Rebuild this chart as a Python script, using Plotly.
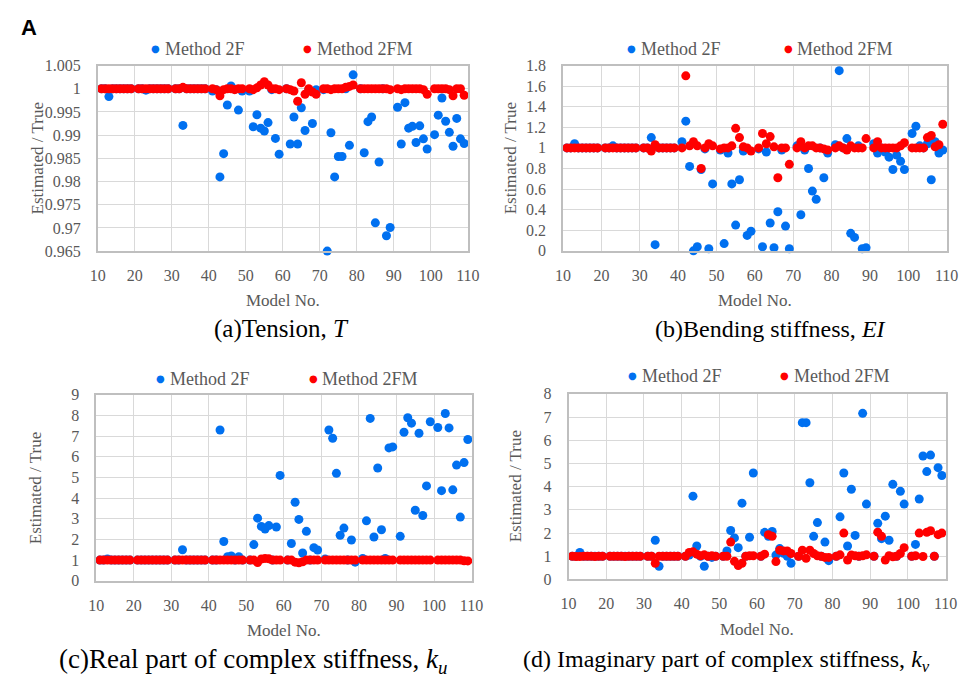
import plotly.graph_objects as go

# ---------------- data ----------------
models = [11, 12, 13, 14, 15, 16, 17, 18, 19,
          21, 22, 23, 24, 25, 26, 27, 28, 29,
          31, 32, 33, 34, 35, 36, 37, 38, 39,
          41, 42, 43, 44, 45, 46, 47, 48, 49,
          51, 52, 53, 54, 55, 56, 57, 58, 59,
          61, 62, 63, 64, 65, 66, 67, 68, 69,
          71, 72, 73, 74, 75, 76, 77, 78, 79,
          81, 82, 83, 84, 85, 86, 87, 88, 89,
          91, 92, 93, 94, 95, 96, 97, 98, 99,
          101, 102, 103, 104, 105, 106, 107, 108, 109]

# (a) Tension T
t_2f = [1.0, 1.0, 0.9983, 1.0, 1.0, 1.0, 1.0, 1.0, 1.0,
        1.0, 1.0, 0.9997, 1.0, 1.0, 1.0, 1.0, 1.0, 1.0,
        1.0, 1.0, 0.9921, 1.0, 1.0, 1.0, 1.0, 1.0, 1.0,
        0.9995, 0.9998, 0.981, 0.986, 0.9965, 1.0006, 0.9999, 0.9954, 0.9995,
        0.9995, 0.9918, 0.9944, 0.9915, 0.9909, 0.9927, 0.9998, 0.9893, 0.9859,
        1.0, 0.9881, 0.9939, 0.9881, 0.9959, 0.991, 0.9998, 0.9925, 0.9998,
        0.9998, 0.965, 0.9905, 0.981, 0.9854, 0.9854, 1.0, 0.9878, 1.003,
        1.0, 0.9862, 0.9929, 0.9939, 0.9711, 0.9842, 1.0, 0.9683, 0.9701,
        0.996, 0.9881, 0.997, 0.9915, 0.9919, 0.9884, 0.992, 0.9892, 0.987,
        0.9901, 0.9943, 0.998, 0.993, 0.9906, 0.9876, 0.9936, 0.9892, 0.9882]
t_2fm = [1.0, 1.0, 1.0, 1.0, 1.0, 1.0, 1.0, 1.0, 1.0,
         1.0, 1.0, 1.0, 1.0, 1.0, 1.0, 1.0, 1.0, 1.0,
         1.0, 1.0, 1.0003, 1.0, 1.0, 1.0, 1.0, 1.0, 1.0,
         1.0, 0.9998, 0.9985, 0.9998, 1.0, 1.0, 0.9998, 1.0, 1.0,
         1.0, 0.9998, 1.0002, 1.0008, 1.0015, 1.0008, 1.0, 1.0, 0.9998,
         1.0, 0.9998, 0.9995, 0.9973, 1.0013, 0.9988, 1.0, 0.9993, 0.9988,
         1.0, 1.0, 0.9998, 1.0, 1.0, 1.0, 1.0003, 1.0005, 1.0008,
         1.0, 1.0, 1.0, 1.0, 1.0, 1.0, 1.0, 1.0, 0.9998,
         1.0, 0.9998, 1.0, 1.0, 1.0, 1.0, 1.0, 0.9998, 0.9988,
         1.0, 1.0, 1.0, 1.0, 0.9998, 0.9985, 1.0, 1.0, 0.9986]

# (b) Bending stiffness EI
ei_2f = [1.0, 1.0, 1.04, 1.0, 1.0, 1.0, 1.0, 1.0, 1.0,
         1.0, 1.0, 1.02, 1.0, 1.0, 1.0, 1.0, 1.0, 1.0,
         1.0, 1.0, 1.10, 0.06, 1.0, 1.0, 1.0, 1.0, 1.0,
         1.06, 1.26, 0.82, 0.0, 0.04, 0.79, 0.99, 0.02, 0.65,
         0.98, 0.07, 0.95, 0.65, 0.25, 0.69, 0.97, 0.15, 0.19,
         0.99, 0.04, 0.96, 0.27, 0.03, 0.38, 0.98, 0.24, 0.02,
         1.02, 0.35, 0.98, 0.80, 0.58, 0.50, 1.0, 0.71, 0.95,
         1.03, 1.75, 1.0, 1.09, 0.17, 0.13, 1.02, 0.02, 0.03,
         1.04, 0.95, 1.0, 0.96, 0.91, 0.79, 0.93, 0.87, 0.79,
         1.14, 1.21, 1.02, 1.0, 1.04, 0.69, 1.06, 0.95, 0.98]
ei_2fm = [1.0, 1.0, 1.0, 1.0, 1.0, 1.0, 1.0, 1.0, 1.0,
          1.0, 1.0, 1.0, 1.0, 1.0, 1.0, 1.0, 1.0, 1.0,
          1.0, 1.0, 0.97, 1.03, 1.0, 1.0, 1.0, 1.0, 1.0,
          1.0, 1.70, 1.02, 1.06, 1.02, 0.80, 1.0, 1.04, 1.02,
          0.99, 1.0, 1.0, 1.02, 1.19, 1.10, 1.01, 1.0, 0.97,
          1.0, 1.14, 1.04, 1.11, 1.01, 0.71, 1.0, 1.0, 0.84,
          1.0, 1.06, 1.0, 1.02, 1.02, 1.0, 1.0, 0.99, 0.98,
          1.0, 1.02, 1.0, 0.98, 1.02, 1.0, 1.0, 1.0, 1.09,
          1.0, 1.06, 1.0, 1.0, 1.0, 1.0, 1.0, 1.02, 1.05,
          1.0, 1.0, 1.0, 1.0, 1.10, 1.12, 1.01, 1.03, 1.23]

# (c) Real part of complex stiffness ku
ku_2f = [1.0, 1.0, 1.05, 1.0, 1.0, 1.0, 1.0, 1.0, 1.0,
         1.0, 1.0, 1.0, 1.0, 1.0, 1.0, 1.0, 1.0, 1.0,
         1.0, 1.0, 1.5, 1.0, 1.0, 1.0, 1.0, 1.0, 1.0,
         1.0, 1.0, 7.3, 1.9, 1.16, 1.2, 1.0, 1.16, 1.0,
         1.0, 1.75, 3.03, 2.63, 2.5, 2.67, 1.0, 2.6, 5.1,
         1.0, 1.8, 3.8, 2.97, 1.34, 2.39, 1.0, 1.6, 1.49,
         1.05, 7.3, 6.9, 5.2, 2.2, 2.55, 1.0, 1.97, 0.9,
         1.08, 2.9, 7.86, 2.12, 5.46, 2.47, 1.08, 6.43, 6.48,
         2.15, 7.19, 7.89, 7.63, 3.41, 7.14, 3.16, 4.59, 7.7,
         7.42, 4.36, 8.1, 7.4, 4.4, 5.6, 3.08, 5.72, 6.84]
ku_2fm = [1.0, 1.0, 1.0, 1.0, 1.0, 1.0, 1.0, 1.0, 1.0,
          1.0, 1.0, 1.0, 1.0, 1.0, 1.0, 1.0, 1.0, 1.0,
          1.0, 1.0, 1.0, 1.0, 1.0, 1.0, 1.0, 1.0, 1.0,
          1.0, 1.0, 1.0, 1.0, 1.0, 1.0, 1.0, 1.0, 1.0,
          1.0, 1.0, 0.88, 1.05, 1.08, 1.06, 1.0, 1.0, 1.0,
          1.0, 1.0, 0.9, 0.87, 0.92, 1.0, 1.0, 1.0, 1.0,
          1.0, 1.0, 1.0, 1.0, 1.0, 1.0, 1.0, 1.0, 1.0,
          1.0, 1.0, 1.0, 1.0, 1.0, 1.0, 1.0, 1.0, 1.0,
          1.0, 1.0, 1.0, 1.0, 1.0, 1.0, 1.0, 1.0, 1.0,
          1.0, 1.0, 1.0, 1.0, 1.0, 1.0, 1.0, 0.97, 0.96]

# (d) Imaginary part of complex stiffness kv
kv_2f = [1.0, 1.0, 1.16, 1.0, 1.0, 1.0, 1.0, 1.0, 1.0,
         1.0, 1.0, 1.0, 1.0, 1.0, 1.0, 1.0, 1.0, 1.0,
         1.0, 1.0, 1.69, 0.57, 1.0, 1.0, 1.0, 1.0, 1.0,
         1.0, 1.05, 3.59, 1.44, 1.0, 0.57, 1.0, 0.95, 1.0,
         1.0, 1.23, 2.11, 1.79, 1.37, 3.29, 1.0, 1.82, 4.59,
         1.0, 2.03, 1.86, 2.07, 1.05, 1.33, 1.13, 1.0, 0.7,
         1.0, 6.76, 6.76, 4.17, 1.86, 2.45, 1.0, 1.61, 0.81,
         1.0, 2.70, 4.59, 1.44, 3.89, 1.90, 1.0, 7.16, 3.25,
         1.0, 2.42, 1.76, 2.73, 1.69, 4.10, 1.0, 3.80, 3.25,
         1.0, 1.51, 3.47, 5.32, 4.65, 5.36, 1.0, 4.82, 4.48]
kv_2fm = [1.0, 0.99, 0.99, 1.0, 1.0, 1.0, 0.99, 1.0, 1.0,
          1.0, 1.0, 1.0, 1.0, 0.99, 1.0, 1.0, 1.0, 1.0,
          1.0, 1.0, 0.7, 1.0, 1.0, 1.0, 1.0, 1.0, 1.0,
          1.0, 1.16, 1.19, 1.09, 1.02, 1.06, 1.0, 1.02, 1.0,
          1.0, 1.0, 1.61, 0.78, 0.6, 0.7, 1.0, 1.02, 1.02,
          1.0, 1.09, 1.93, 1.86, 0.77, 1.26, 1.23, 1.23, 1.12,
          1.0, 1.26, 0.91, 1.26, 1.12, 1.02, 1.0, 0.95, 0.95,
          1.0, 1.06, 2.0, 0.84, 1.05, 1.02, 1.0, 1.02, 1.06,
          1.0, 2.04, 1.86, 0.84, 1.02, 0.98, 1.0, 1.12, 1.37,
          1.0, 1.02, 2.0, 0.99, 2.03, 2.1, 1.0, 1.93, 2.0]

x_tick_vals = [10, 20, 30, 40, 50, 60, 70, 80, 90, 100, 110]
x_tick_text = ["10", "20", "30", "40", "50", "60", "70", "80", "90", "100", "110"]
ya_vals = [0.965, 0.97, 0.975, 0.98, 0.985, 0.99, 0.995, 1.0, 1.005]
ya_text = ["0.965", "0.97", "0.975", "0.98", "0.985", "0.99", "0.995", "1", "1.005"]
yb_vals = [0, 0.2, 0.4, 0.6, 0.8, 1.0, 1.2, 1.4, 1.6, 1.8]
yb_text = ["0", "0.2", "0.4", "0.6", "0.8", "1", "1.2", "1.4", "1.6", "1.8"]
yc_vals = [0, 1, 2, 3, 4, 5, 6, 7, 8, 9]
yc_text = ["0", "1", "2", "3", "4", "5", "6", "7", "8", "9"]
yd_vals = [0, 1, 2, 3, 4, 5, 6, 7, 8]
yd_text = ["0", "1", "2", "3", "4", "5", "6", "7", "8"]

series_names = ["Method 2F", "Method 2FM"]
captions = ["(a)Tension, <i>T</i>",
            "(b)Bending stiffness, <i>EI</i>",
            "(c)Real part of complex stiffness, <i>k<sub>u</sub></i>",
            "(d) Imaginary part of complex stiffness, <i>k<sub>v</sub></i>"]

# ---------------- style ----------------
W, H = 973, 685
SERIF = "Liberation Serif, Times New Roman, serif"
GRAY = "#595959"
BLUE = "#0070F0"
RED = "#FF0000"


def px(x):
    return x / W


def py(y):
    return 1 - y / H


# plot areas in pixels: (left, right, top, bottom)
boxes = [(91.7, 469.5, 59, 249.3),
         (566.7, 958.3, 59, 249.0),
         (90.0, 473.3, 396.7, 587.3),
         (572.3, 957.3, 395.7, 586.0)]
yranges = [[0.965, 1.005], [0, 1.8], [0, 9], [0, 8]]
yticks = [(ya_vals, ya_text), (yb_vals, yb_text), (yc_vals, yc_text), (yd_vals, yd_text)]
data = [(t_2f, t_2fm), (ei_2f, ei_2fm), (ku_2f, ku_2fm), (kv_2f, kv_2fm)]

fig = go.Figure()
layout = dict(width=W, height=H, margin=dict(l=0, r=0, t=0, b=0),
              paper_bgcolor="white", plot_bgcolor="white", showlegend=False)

annotations = []
for i, (box, yr, (tv, tt), (s1, s2)) in enumerate(zip(boxes, yranges, yticks, data)):
    k = "" if i == 0 else str(i + 1)
    l, r, t, b = box
    layout["xaxis" + k] = dict(domain=[px(l), px(r)], anchor="y" + k, range=[10, 110],
                               tickvals=x_tick_vals, ticktext=x_tick_text,
                               showgrid=True, gridcolor="#d9d9d9", gridwidth=1,
                               showline=True, linecolor="#bfbfbf", linewidth=1.5, mirror=True,
                               zeroline=False, ticks="", ticklabelstandoff=9,
                               tickfont=dict(family=SERIF, size=16, color=GRAY))
    layout["yaxis" + k] = dict(domain=[py(b), py(t)], anchor="x" + k, range=yr,
                               tickvals=tv, ticktext=tt,
                               showgrid=True, gridcolor="#d9d9d9", gridwidth=1,
                               showline=True, linecolor="#bfbfbf", linewidth=1.5, mirror=True,
                               zeroline=False, ticks="", ticklabelstandoff=12,
                               tickfont=dict(family=SERIF, size=16, color=GRAY))
    fig.add_trace(go.Scatter(x=models, y=s1, mode="markers", name=series_names[0],
                             marker=dict(color=BLUE, size=9), cliponaxis=False,
                             xaxis="x" + k, yaxis="y" + k))
    fig.add_trace(go.Scatter(x=models, y=s2, mode="markers", name=series_names[1],
                             marker=dict(color=RED, size=9), cliponaxis=False,
                             xaxis="x" + k, yaxis="y" + k))

    cx = (l + r) / 2
    cy = (t + b) / 2
    # y-axis title
    annotations.append(dict(text="Estimated / True", x=px(l - 62 if i % 2 == 0 else l - 54), y=py(cy),
                            xref="paper", yref="paper", textangle=-90, showarrow=False,
                            xanchor="center", yanchor="middle",
                            font=dict(family=SERIF, size=17, color=GRAY)))
    # x-axis title
    annotations.append(dict(text="Model No.", x=px(cx), y=py(b + 51),
                            xref="paper", yref="paper", showarrow=False,
                            xanchor="center", yanchor="middle",
                            font=dict(family=SERIF, size=17, color=GRAY)))

# captions
cap_pos = [(279, 329), (778, 329), (250, 670), (734, 670)]
cap_size = [25, 24, 27, 24]
for c, (cxp, cyp), fs in zip(captions, cap_pos, cap_size):
    annotations.append(dict(text=c, x=px(cxp), y=py(cyp), xref="paper", yref="paper",
                            showarrow=False, xanchor="center", yanchor="middle",
                            font=dict(family=SERIF, size=fs, color="black")))

# legends (dot + text)
leg_pos = [[(151, 42), (306, 42)], [(637, 42), (797, 42)],
           [(156, 380), (312, 380)], [(638, 377), (793, 377)]]
for pair in leg_pos:
    for (lx, ly), name, col in zip(pair, series_names, [BLUE, RED]):
        annotations.append(dict(text="●", x=px(lx), y=py(ly), xref="paper", yref="paper",
                                showarrow=False, xanchor="center", yanchor="middle",
                                font=dict(family="DejaVu Sans", size=10, color=col)))
        annotations.append(dict(text=name, x=px(lx + 7), y=py(ly), xref="paper", yref="paper",
                                showarrow=False, xanchor="left", yanchor="middle",
                                font=dict(family=SERIF, size=18, color=GRAY)))

annotations.append(dict(text="<b>A</b>", x=px(21), y=py(20), xref="paper", yref="paper",
                        showarrow=False, xanchor="center", yanchor="middle",
                        font=dict(family="Liberation Sans, Arial, sans-serif", size=22, color="black")))

layout["annotations"] = annotations
fig.update_layout(**layout)
fig.write_html("out.html")
